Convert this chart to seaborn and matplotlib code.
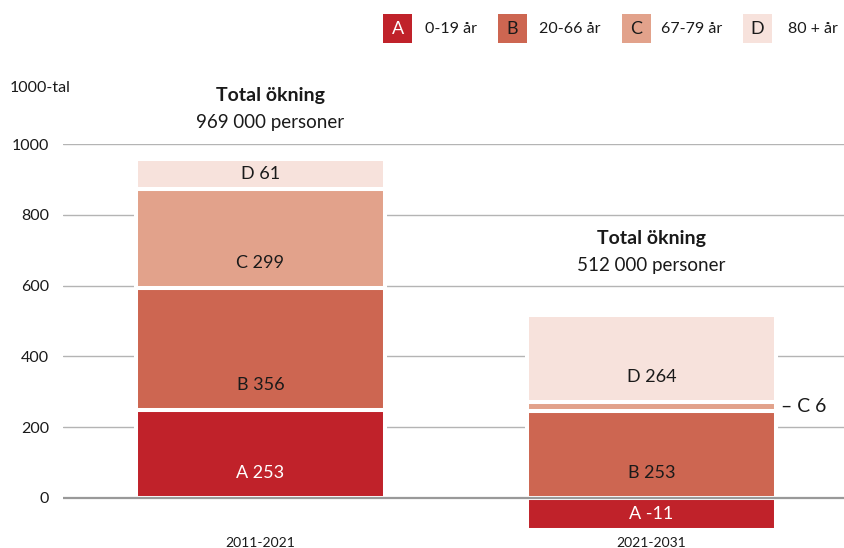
import numpy as np
import matplotlib
matplotlib.use("Agg")
import matplotlib.pyplot as plt
from matplotlib.patches import Rectangle
import seaborn as sns

# Perioder och ökning per åldersgrupp (1000-tal), som de står i etiketterna
periods = ["2011-2021", "2021-2031"]
val_a = [253, -11]
val_b = [356, 253]
val_c = [299, 6]
val_d = [61, 264]
totals = ["969 000", "512 000"]

# Segmentens höjd som de är ritade i originalet (små segment är förstorade)
seg_a = [249, -90]
seg_b = [344, 246]
seg_c = [280, 25]
seg_d = [85, 246]

groups = ["A", "B", "C", "D"]
group_names = ["0-19 år", "20-66 år", "67-79 år", "80 + år"]
colors = ["#c0222a", "#cd6651", "#e2a28b", "#f7e2dc"]
text_colors = ["white", "#1a1a1a", "#1a1a1a", "#1a1a1a"]

sns.set_theme(style="white")
plt.rcParams["font.family"] = ["Lato", "DejaVu Sans"]

fig = plt.figure(figsize=(8.44, 5.48), dpi=100)
W, H = 844, 548
ax = fig.add_axes([63 / W, (548 - 531.6) / H, 1 - 63 / W, (531.6 - 144) / H])

ylo, yhi = -95, 1000
bar_w = 0.637

# gridlinjer bakom staplarna
for yv in range(200, 1001, 200):
    ax.axhline(yv, color="#b4b4b4", lw=1.0, zorder=0)

pos_base = np.zeros(2)
neg_base = np.zeros(2)
seg_all = [seg_a, seg_b, seg_c, seg_d]
val_all = [val_a, val_b, val_c, val_d]
for g, segs, vals, col, tcol in zip(groups, seg_all, val_all, colors, text_colors):
    segs = np.array(segs, dtype=float)
    bottoms = np.where(segs >= 0, pos_base, neg_base)
    sns.barplot(x=periods, y=segs, bottom=bottoms, color=col, width=bar_w,
                edgecolor="white", linewidth=2.9, saturation=1, ax=ax, zorder=2)
    for i in range(2):
        lo = min(bottoms[i], bottoms[i] + segs[i])
        hi = max(bottoms[i], bottoms[i] + segs[i])
        if abs(segs[i]) > 150:
            ty = lo + 70
        else:
            ty = (lo + hi) / 2
        if g == "C" and i == 1:
            ax.text(i + bar_w / 2 + 0.012, (lo + hi) / 2, "– C 6", ha="left",
                    va="center", fontsize=14, color="#1a1a1a", zorder=5)
            continue
        ax.text(i, ty, f"{g} {vals[i]}", ha="center", va="center",
                fontsize=13, color=tcol, zorder=5)
    pos_base = pos_base + np.where(segs >= 0, segs, 0)
    neg_base = neg_base + np.where(segs < 0, segs, 0)

ax.axhline(0, color="#999999", lw=1.6, zorder=4)

# totalsumma ovanför staplarna
title_y = [1062, 658]
for i in range(2):
    ax.text(i + 0.025 * (1 - i), title_y[i], f"{totals[i]} personer", ha="center",
            va="center", fontsize=13.5, color="#1a1a1a", clip_on=False)
    ax.text(i + 0.025 * (1 - i), title_y[i] + 75, "Total ökning", ha="center",
            va="center", fontsize=14, fontweight="bold", color="#1a1a1a", clip_on=False)

ax.set_xlim(-0.505, 1.492)
ax.set_ylim(ylo, yhi)
ax.set_yticks(range(0, 1001, 200))
ax.set_yticklabels([str(v) for v in range(0, 1001, 200)], fontsize=11.5, color="#1a1a1a")
ax.set_xticks([0, 1])
ax.set_xticklabels(periods, fontsize=10, color="#1a1a1a")
ax.tick_params(axis="y", length=0, pad=10)
ax.tick_params(axis="x", length=0, pad=4)
ax.set_xlabel("")
ax.set_ylabel("")
for s in ax.spines.values():
    s.set_visible(False)
ax.grid(False)

fig.text(10 / W, 1 - 88 / H, "1000-tal", ha="left", va="center", fontsize=11.5, color="#1a1a1a")

# förklaring
box_x = [383, 498, 622, 743]
lab_x = [425, 539, 661, 788]
for g, name, col, tcol, bx, lx in zip(groups, group_names, colors, text_colors, box_x, lab_x):
    fig.add_artist(Rectangle((bx / W, 1 - 43 / H), 29 / W, 29 / H, transform=fig.transFigure,
                             facecolor=col, edgecolor="none"))
    fig.text((bx + 14.5) / W, 1 - 29 / H, g, ha="center", va="center", fontsize=13, color=tcol)
    fig.text(lx / W, 1 - 29 / H, name, ha="left", va="center", fontsize=11.5, color="#1a1a1a")

fig.savefig("out.png", dpi=100)
